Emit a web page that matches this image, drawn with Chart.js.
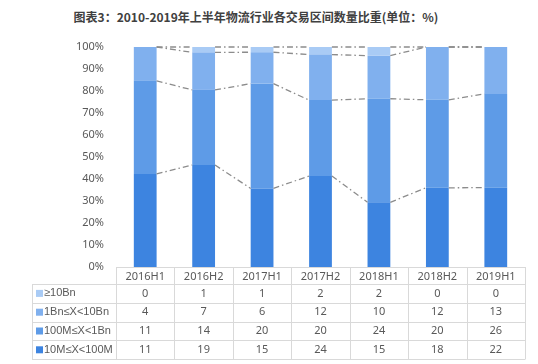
<!DOCTYPE html>
<html>
<head>
<meta charset="utf-8">
<script src="https://cdn.jsdelivr.net/npm/chart.js@4"></script>
<style>
  html, body { margin: 0; padding: 0; background: #fff; }
  #wrap { position: relative; width: 538px; height: 364px; }
  #title {
    position: absolute; left: 0; width: 512px; top: 8px; text-align: center;
    font: bold 12px "Noto Sans CJK SC", sans-serif; color: #404040;
  }
  canvas { position: absolute; left: 0; top: 0; }
</style>
</head>
<body>
<div id="wrap">
  <div id="title">图表3：2010-2019年上半年物流行业各交易区间数量比重(单位：%)</div>
  <canvas id="myChart" width="538" height="364"></canvas>
</div>
<script>
var labels = ['2016H1', '2016H2', '2017H1', '2017H2', '2018H1', '2018H2', '2019H1'];

// deal counts per size bracket
var mid = [11, 19, 15, 24, 15, 18, 22];       // 10M≤X<100M
var large = [11, 14, 20, 20, 24, 20, 26];     // 100M≤X<1Bn
var huge = [4, 7, 6, 12, 10, 12, 13];         // 1Bn≤X<10Bn
var mega = [0, 1, 1, 2, 2, 0, 0];             // ≥10Bn

var names = ['10M≤X<100M', '100M≤X<1Bn', '1Bn≤X<10Bn', '≥10Bn'];
var colors = ['#3d84e0', '#5e9be7', '#80b0ee', '#a9cbf5'];
var series = [mid, large, huge, mega];

var totals = labels.map(function (l, i) {
    return mid[i] + large[i] + huge[i] + mega[i];
});
function share(arr) {
    return arr.map(function (v, i) { return v / totals[i] * 100; });
}

var font = '"Noto Sans", "Noto Sans CJK SC", sans-serif';
var labelFont = '"Liberation Sans", "DejaVu Sans", sans-serif';
var textColor = '#595959';
var gridColor = '#d9d9d9';

// dash-dot series lines between the bars
var seriesLines = {
    id: 'seriesLines',
    afterDatasetsDraw: function (chart) {
        var ctx = chart.ctx;
        ctx.save();
        ctx.strokeStyle = '#8c8c8c';
        ctx.lineWidth = 1.3;
        ctx.setLineDash([6, 3, 1.5, 3]);
        chart.data.datasets.forEach(function (ds, d) {
            var bars = chart.getDatasetMeta(d).data;
            for (var j = 0; j < bars.length - 1; j++) {
                var a = bars[j], b = bars[j + 1];
                ctx.beginPath();
                ctx.moveTo(a.x + a.width / 2, a.y);
                ctx.lineTo(b.x - b.width / 2, b.y);
                ctx.stroke();
            }
        });
        ctx.restore();
    }
};

// data table under the axis
var dataTable = {
    id: 'dataTable',
    afterDraw: function (chart) {
        var ctx = chart.ctx;
        var xs = chart.scales.x;
        var left = chart.chartArea.left, right = chart.chartArea.right;
        var top = chart.chartArea.bottom;
        var head = 17, rowH = 18.8, tableLeft = 32;
        var step = (right - left) / labels.length;
        ctx.save();
        ctx.strokeStyle = gridColor;
        ctx.lineWidth = 1;
        ctx.beginPath();
        ctx.moveTo(left, top + 0.5);
        ctx.lineTo(right, top + 0.5);
        for (var r = 0; r <= 4; r++) {
            var y = Math.round(top + head + r * rowH) + 0.5;
            ctx.moveTo(tableLeft, y);
            ctx.lineTo(right, y);
        }
        var bottom = Math.round(top + head + 4 * rowH) + 0.5;
        ctx.moveTo(tableLeft + 0.5, top + head);
        ctx.lineTo(tableLeft + 0.5, bottom);
        for (var c = 0; c <= labels.length; c++) {
            var x = Math.round(left + c * step) + 0.5;
            ctx.moveTo(x, top);
            ctx.lineTo(x, bottom);
        }
        ctx.stroke();

        ctx.textBaseline = 'middle';
        for (var k = 0; k < 4; k++) {
            var s = 3 - k;
            var cy = top + head + k * rowH + rowH / 2;
            ctx.fillStyle = colors[s];
            ctx.fillRect(36, cy - 3.5, 7, 7);
            ctx.fillStyle = textColor;
            ctx.textAlign = 'left';
            ctx.font = '11px ' + labelFont;
            ctx.fillText(names[s], 44, cy);
            ctx.textAlign = 'center';
            ctx.font = '11px ' + font;
            series[s].forEach(function (v, i) {
                ctx.fillText(String(v), xs.getPixelForValue(i), cy);
            });
        }
        ctx.restore();
    }
};

new Chart(document.getElementById('myChart'), {
    type: 'bar',
    data: {
        labels: labels,
        datasets: series.map(function (arr, i) {
            return {
                label: names[i],
                data: share(arr),
                backgroundColor: colors[i],
                borderWidth: 0,
                barPercentage: 0.39,
                categoryPercentage: 1
            };
        })
    },
    options: {
        responsive: false,
        animation: false,
        layout: { padding: { top: 47, right: 13, bottom: 0, left: 0 } },
        plugins: {
            legend: { display: false },
            tooltip: { enabled: false },
            title: { display: false }
        },
        scales: {
            x: {
                stacked: true,
                grid: { display: false, drawTicks: false },
                border: { display: false },
                ticks: { color: textColor, font: { size: 11, family: font }, padding: 3, maxRotation: 0 },
                afterFit: function (s) { s.height = 97; }
            },
            y: {
                stacked: true,
                min: 0,
                max: 100,
                grid: { display: false, drawTicks: false },
                border: { display: false },
                ticks: {
                    stepSize: 10,
                    color: textColor,
                    font: { size: 11, family: font },
                    padding: 12,
                    callback: function (v) { return v + '%'; }
                },
                afterFit: function (s) { s.width = 116; }
            }
        }
    },
    plugins: [seriesLines, dataTable]
});
</script>
</body>
</html>
